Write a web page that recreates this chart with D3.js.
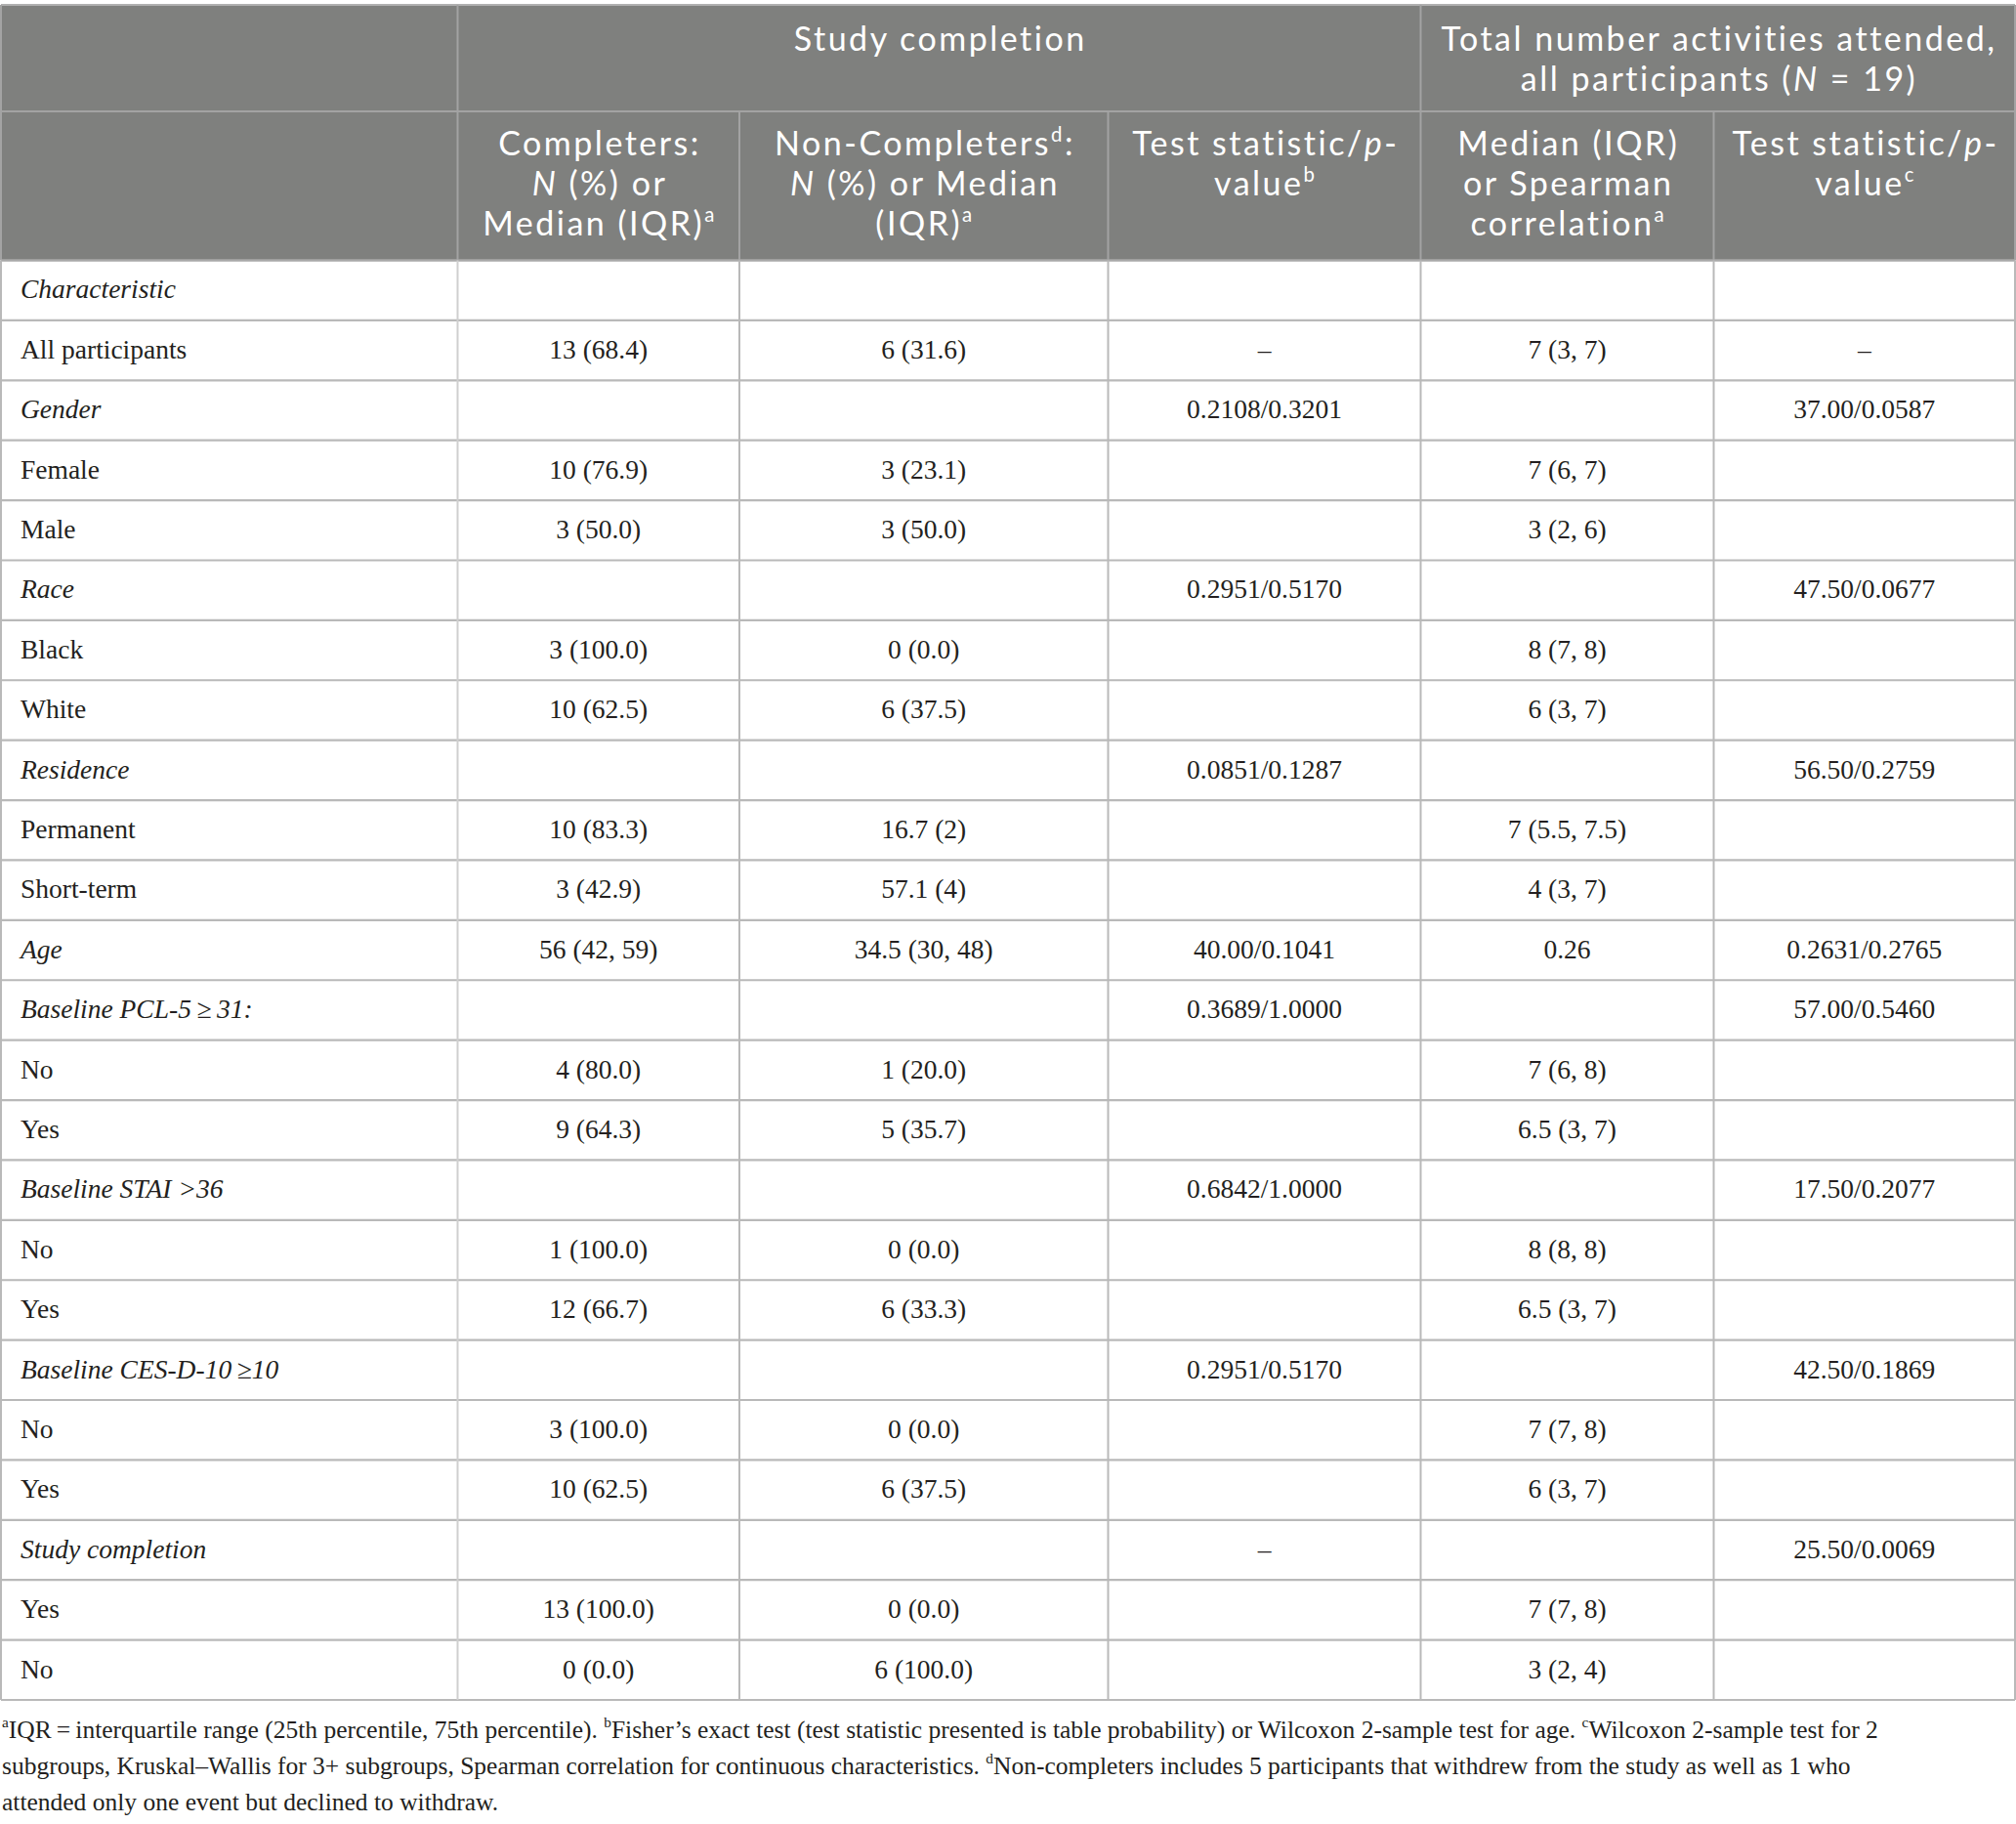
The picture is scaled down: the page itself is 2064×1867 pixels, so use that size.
<!DOCTYPE html>
<html><head><meta charset="utf-8">
<script src="https://cdn.jsdelivr.net/npm/d3@7/dist/d3.min.js"></script>
<style>body{margin:0;background:#fff}</style></head>
<body><svg id="c" width="2064" height="1867"></svg>
<script>
// ---------- DATA ----------
const groupHeaders = [
  { text: ["Study completion"], from: 1, to: 3 },
  { text: ["Total number activities attended,", "all participants (*N* = 19)"], from: 4, to: 5 }
];
const columnHeaders = [
  [],
  ["Completers:", "*N* (%) or", "Median (IQR){a}"],
  ["Non-Completers{d}:", "*N* (%) or Median", "(IQR){a}"],
  ["Test statistic/*p*-", "value{b}"],
  ["Median (IQR)", "or Spearman", "correlation{a}"],
  ["Test statistic/*p*-", "value{c}"]
];
const rowLabels = ["Characteristic","All participants","Gender","Female","Male","Race","Black","White",
  "Residence","Permanent","Short-term","Age","Baseline PCL-5\u2009\u2265\u200931:","No","Yes","Baseline STAI >36",
  "No","Yes","Baseline CES-D-10\u2009\u226510","No","Yes","Study completion","Yes","No"];
const italicRows = [true,false,true,false,false,true,false,false,true,false,false,true,true,false,false,true,
  false,false,true,false,false,true,false,false];
const completers = ["","13 (68.4)","","10 (76.9)","3 (50.0)","","3 (100.0)","10 (62.5)","","10 (83.3)","3 (42.9)",
  "56 (42, 59)","","4 (80.0)","9 (64.3)","","1 (100.0)","12 (66.7)","","3 (100.0)","10 (62.5)","","13 (100.0)","0 (0.0)"];
const nonCompleters = ["","6 (31.6)","","3 (23.1)","3 (50.0)","","0 (0.0)","6 (37.5)","","16.7 (2)","57.1 (4)",
  "34.5 (30, 48)","","1 (20.0)","5 (35.7)","","0 (0.0)","6 (33.3)","","0 (0.0)","6 (37.5)","","0 (0.0)","6 (100.0)"];
const completionTest = ["","\u2013","0.2108/0.3201","","","0.2951/0.5170","","","0.0851/0.1287","","",
  "40.00/0.1041","0.3689/1.0000","","","0.6842/1.0000","","","0.2951/0.5170","","","\u2013","",""];
const activitiesMedian = ["","7 (3, 7)","","7 (6, 7)","3 (2, 6)","","8 (7, 8)","6 (3, 7)","","7 (5.5, 7.5)","4 (3, 7)",
  "0.26","","7 (6, 8)","6.5 (3, 7)","","8 (8, 8)","6.5 (3, 7)","","7 (7, 8)","6 (3, 7)","","7 (7, 8)","3 (2, 4)"];
const activitiesTest = ["","\u2013","37.00/0.0587","","","47.50/0.0677","","","56.50/0.2759","","",
  "0.2631/0.2765","57.00/0.5460","","","17.50/0.2077","","","42.50/0.1869","","","25.50/0.0069","",""];
const footnoteLines = [
  "{a}IQR\u2009=\u2009interquartile range (25th percentile, 75th percentile). {b}Fisher\u2019s exact test (test statistic presented is table probability) or Wilcoxon 2-sample test for age. {c}Wilcoxon 2-sample test for 2",
  "subgroups, Kruskal\u2013Wallis for 3+ subgroups, Spearman correlation for continuous characteristics. {d}Non-completers includes 5 participants that withdrew from the study as well as 1 who",
  "attended only one event but declined to withdraw."
];

// ---------- LAYOUT ----------
const colEdges = [1, 468.5, 757, 1134.5, 1454.5, 1754.5, 2063];
const tableTop = 5, head1Bottom = 114, headBottom = 266.5, tableBottom = 1740;
const headerFill = "#7f807e", headerLine = "#a3a3a3", bodyLine = "#b9b9b9";
const sans = "Lato, 'Open Sans', sans-serif", serif = "'Liberation Serif', 'DejaVu Serif', serif";
const headFS = 34, headLS = 2.5, bodyFS = 27.5, footFS = 25.5;

const svg = d3.select("#c");
const cols = [rowLabels, completers, nonCompleters, completionTest, activitiesMedian, activitiesTest];

const y = d3.scaleBand().domain(d3.range(rowLabels.length)).range([headBottom, tableBottom]);
const colX = d3.scaleOrdinal().domain(d3.range(7)).range(colEdges);
const colCenter = i => (colX(i) + colX(i + 1)) / 2;

function rich(textSel, str, fs) {
  const parts = str.split(/(\*[^*]+\*|\{[^}]+\})/).filter(s => s.length);
  let raised = false;
  parts.forEach(p => {
    const t = textSel.append("tspan");
    if (p.startsWith("{")) {
      t.text(p.slice(1, -1)).attr("font-size", fs * 0.6).attr("dy", -fs * 0.42);
      raised = true;
    } else {
      if (raised) { t.attr("dy", fs * 0.42); raised = false; }
      if (p.startsWith("*")) t.attr("font-style", "italic").text(p.slice(1, -1));
      else t.text(p);
    }
  });
}

// header background
svg.append("rect").attr("x", colX(0)).attr("y", tableTop).attr("width", colX(6) - colX(0))
  .attr("height", headBottom - tableTop).attr("fill", headerFill);

// header lines
svg.append("line").attr("x1", colX(0)).attr("x2", colX(6)).attr("y1", tableTop).attr("y2", tableTop)
  .attr("stroke", "#b0b0b0").attr("stroke-width", 2);
svg.append("line").attr("x1", colX(0)).attr("x2", colX(6)).attr("y1", head1Bottom).attr("y2", head1Bottom)
  .attr("stroke", headerLine).attr("stroke-width", 2);
[1, 4].forEach(i => svg.append("line").attr("x1", colX(i)).attr("x2", colX(i)).attr("y1", tableTop).attr("y2", head1Bottom)
  .attr("stroke", headerLine).attr("stroke-width", 2));
d3.range(1, 6).forEach(i => svg.append("line").attr("x1", colX(i)).attr("x2", colX(i)).attr("y1", head1Bottom).attr("y2", headBottom)
  .attr("stroke", headerLine).attr("stroke-width", 2));
[0, 6].forEach(i => svg.append("line").attr("x1", colX(i)).attr("x2", colX(i)).attr("y1", tableTop).attr("y2", headBottom)
  .attr("stroke", headerLine).attr("stroke-width", 2));

function headerText(cx, yy, line) {
  const t = svg.append("text").attr("x", cx + headLS / 2).attr("y", yy).attr("text-anchor", "middle")
    .attr("font-family", sans).attr("font-size", headFS).attr("letter-spacing", headLS).attr("fill", "#fff");
  rich(t, line, headFS);
}
// group headers
groupHeaders.forEach(g => {
  const cx = (colX(g.from) + colX(g.to + 1)) / 2;
  g.text.forEach((line, li) => headerText(cx, 52 + li * 41, line));
});
// column headers
columnHeaders.forEach((lines, ci) => {
  lines.forEach((line, li) => headerText(colCenter(ci), 159 + li * 41, line));
});

// body grid
const rowsIdx = d3.range(rowLabels.length);
svg.append("g").selectAll("line").data(rowsIdx).join("line")
  .attr("x1", colX(0)).attr("x2", colX(6))
  .attr("y1", d => y(d) + y.bandwidth()).attr("y2", d => y(d) + y.bandwidth())
  .attr("stroke", bodyLine).attr("stroke-width", 2.2);
svg.append("line").attr("x1", colX(0)).attr("x2", colX(6)).attr("y1", headBottom).attr("y2", headBottom)
  .attr("stroke", "#a9a9a9").attr("stroke-width", 2.5);
svg.append("g").selectAll("line").data(d3.range(7)).join("line")
  .attr("x1", d => colX(d)).attr("x2", d => colX(d))
  .attr("y1", headBottom).attr("y2", tableBottom)
  .attr("stroke", d => d === 1 ? "#cfcfcf" : bodyLine).attr("stroke-width", 2);

// body text
cols.forEach((vals, ci) => {
  svg.append("g").selectAll("text").data(vals.map((v, i) => ({ v, i }))).join("text")
    .attr("x", ci === 0 ? 21 : colCenter(ci))
    .attr("y", d => y(d.i) + y.bandwidth() * 0.635)
    .attr("text-anchor", ci === 0 ? "start" : "middle")
    .attr("font-family", serif).attr("font-size", bodyFS).attr("fill", "#231f20")
    .attr("font-style", d => (ci === 0 && italicRows[d.i]) ? "italic" : "normal")
    .text(d => d.v);
});

// footnotes
footnoteLines.forEach((line, li) => {
  const t = svg.append("text").attr("x", 2).attr("y", 1779 + li * 37)
    .attr("font-family", serif).attr("font-size", footFS).attr("fill", "#231f20");
  rich(t, line, footFS);
});
</script></body></html>
